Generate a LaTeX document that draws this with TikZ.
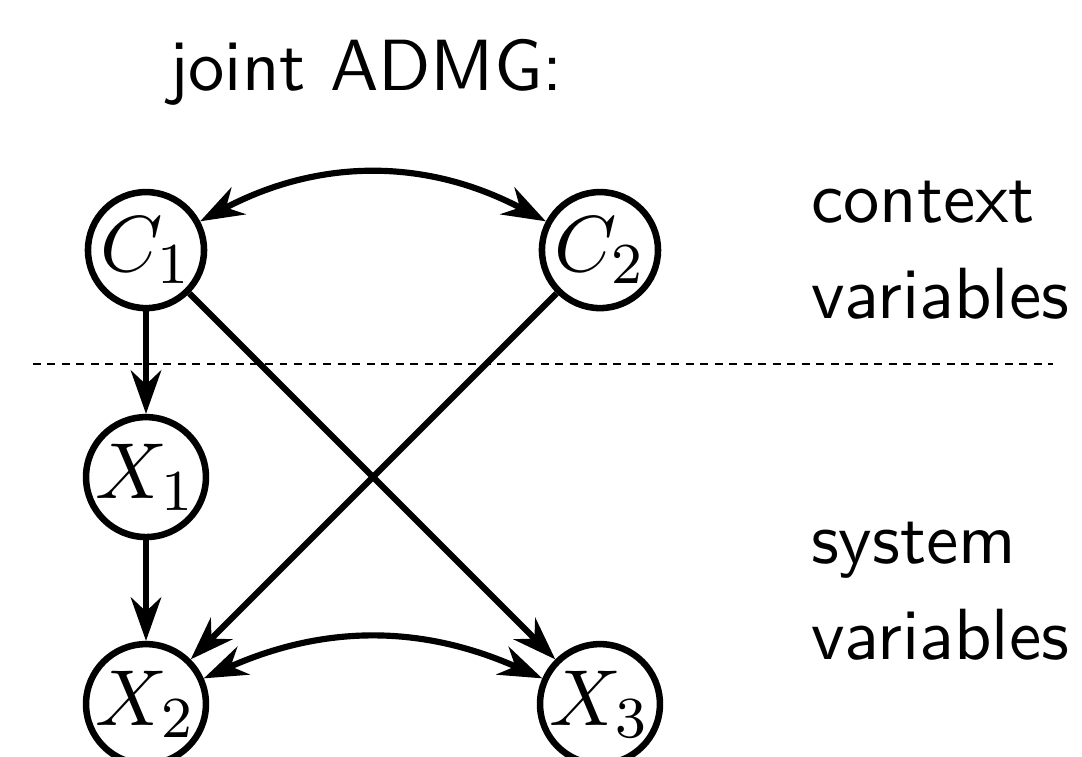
\documentclass[tikz,border=0pt]{standalone}
\usetikzlibrary{arrows.meta}

\tikzset{
  varnode/.style={circle, draw, line width=0.9pt, minimum size=16pt, inner sep=0pt, font=\fontsize{11}{13}\selectfont},
  sidetext/.style={anchor=west, align=left, inner sep=0pt, font=\sffamily\fontsize{10}{13.3}\selectfont},
}

\begin{document}
\begin{tikzpicture}[>={Stealth[length=6pt,width=4.2pt]}, line width=0.85pt]
        \useasboundingbox (-0.7075,-0.252) rectangle (4.536,3.412);

        % title
        \node[anchor=base, font=\sffamily] (title) at (1.066,2.971) {joint ADMG:};

        % separator
        \coordinate (sepL) at (-0.548,1.65);
        \coordinate (sepR) at (4.395,1.65);
        \draw[line width=0.3pt, dash pattern=on 1.1pt off 0.9pt] (sepL) -- (sepR);

        % context variables
        \node[varnode] (C1) at (0,2.2) {$C_1$};
        \node[varnode] (C2) at (2.2,2.2) {$C_2$};
        \node[sidetext] (ctxt) at (3.208,2.2) {context\\variables};

        % system variables
        \node[varnode] (X1) at (0,1.1) {$X_1$};
        \node[varnode] (X2) at (0,0) {$X_2$};
        \node[varnode] (X3) at (2.2,0) {$X_3$};
        \node[sidetext] (stxt) at (3.208,0.548) {system\\variables};

        % edges
        \draw[<->] (C1) to[bend left=28] (C2);
        \draw[<->] (X2) to[bend left=24] (X3);
        \draw[->] (C1) -- (X1);
        \draw[->] (X1) -- (X2);
        \draw[->] (C1) -- (X3);
        \draw[->] (C2) -- (X2);

\end{tikzpicture}
\end{document}
